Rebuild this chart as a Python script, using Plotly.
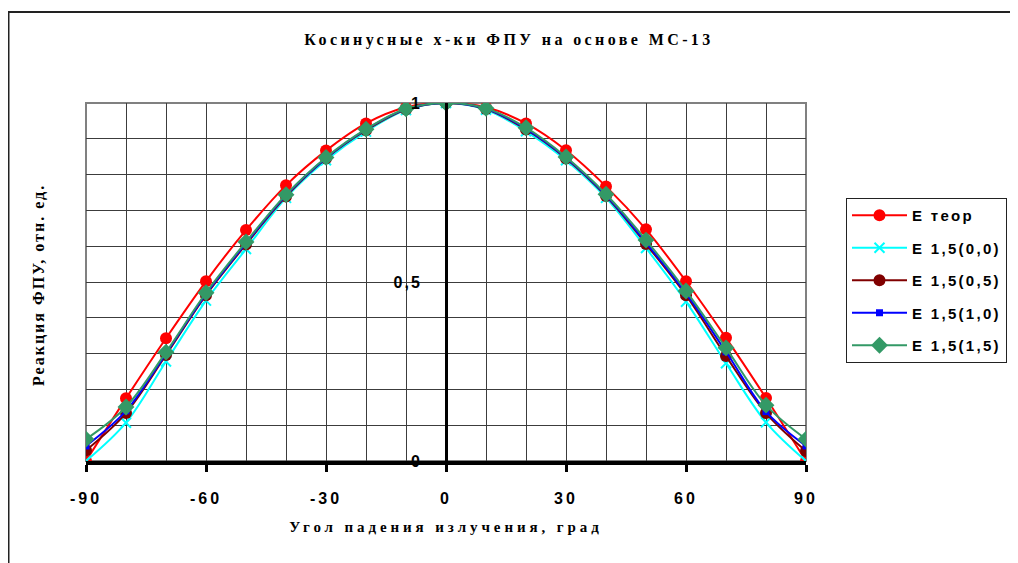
import plotly.graph_objects as go

# ---- data ----
angles = [-90, -80, -70, -60, -50, -40, -30, -20, -10, 0, 10, 20, 30, 40, 50, 60, 70, 80, 90]
e_teor = [0.0, 0.175, 0.343, 0.502, 0.645, 0.770, 0.867, 0.943, 0.988, 1.0, 0.988, 0.943, 0.868, 0.767, 0.647, 0.502, 0.344, 0.176, 0.0]
e_00 = [0.0, 0.107, 0.278, 0.448, 0.592, 0.735, 0.840, 0.920, 0.980, 1.0, 0.981, 0.921, 0.840, 0.735, 0.595, 0.445, 0.273, 0.108, 0.0]
e_05 = [0.030, 0.134, 0.296, 0.463, 0.605, 0.739, 0.845, 0.924, 0.982, 1.0, 0.983, 0.926, 0.845, 0.740, 0.606, 0.463, 0.293, 0.134, 0.028]
e_10 = [0.042, 0.140, 0.300, 0.466, 0.608, 0.742, 0.846, 0.926, 0.983, 1.0, 0.984, 0.928, 0.847, 0.742, 0.610, 0.468, 0.305, 0.138, 0.042]
e_15 = [0.061, 0.151, 0.304, 0.470, 0.612, 0.744, 0.848, 0.927, 0.984, 1.0, 0.985, 0.931, 0.849, 0.745, 0.617, 0.475, 0.316, 0.156, 0.061]

series_names = ["E теор", "E 1,5(0,0)", "E 1,5(0,5)", "E 1,5(1,0)", "E 1,5(1,5)"]
x_ticks = [-90, -60, -30, 0, 30, 60, 90]
y_ticks = [0, 0.5, 1]
y_tick_text = ["0", "0,5", "1"]

title_text = "Косинусные х-ки ФПУ на основе МС-13"
x_title = "Угол падения излучения, град"
y_title = "Реакция ФПУ, отн. ед."

SANS = "Liberation Sans, Arial, sans-serif"
SERIF = "Liberation Serif, Times New Roman, serif"

# page body has an 8px margin; the figure is sized to fit the 1018x563 window
W, H = 1010, 555
L, T, PW, PH = 78, 95, 720, 358


def sp(t, ls):
    return f"<span style='letter-spacing:{ls}px'>{t}</span>"


def px_x(fx):
    return (fx - L) / PW


def px_y(fy):
    return (T + PH - fy) / PH


styles = [
    dict(color="#FF0000", symbol="circle", size=12),
    dict(color="#00FFFF", symbol="x-thin", size=10),
    dict(color="#800000", symbol="circle", size=12),
    dict(color="#0000FF", symbol="square", size=7),
    dict(color="#339966", symbol="diamond", size=13),
]
values = [e_teor, e_00, e_05, e_10, e_15]

fig = go.Figure()
for name, vals, st in zip(series_names, values, styles):
    marker = dict(symbol=st["symbol"], size=st["size"], color=st["color"])
    if st["symbol"] == "x-thin":
        marker["line"] = dict(color=st["color"], width=2)
    fig.add_trace(go.Scatter(
        x=angles, y=vals, name=sp(name, 2.3), legendgroup=name,
        mode="lines+markers",
        line=dict(color=st["color"], width=2, shape="spline", smoothing=1.0),
        marker=marker,
    ))

GRID = "#3c3c3c"
fig.update_layout(
    width=W, height=H,
    margin=dict(l=L, r=W - L - PW, t=T, b=H - T - PH, autoexpand=False),
    paper_bgcolor="white", plot_bgcolor="white",
    separators=", ",
    showlegend=True,
    title=dict(text=sp(title_text, 3.4), x=(509 - 8) / W, xref="container", xanchor="center",
               y=1 - 31 / H, yref="container", yanchor="middle",
               font=dict(family=SERIF, size=16, color="black", weight="bold")),
    legend=dict(x=px_x(838), y=px_y(190), xanchor="left", yanchor="top",
                bordercolor="#222", borderwidth=1, bgcolor="white",
                font=dict(family=SANS, size=15, color="black", weight="bold"),
                itemwidth=55, tracegroupgap=10),
    xaxis=dict(range=[-90, 90], tickmode="array", tickvals=x_ticks,
               ticktext=[sp(str(v), 3) for v in x_ticks],
               showgrid=True, gridcolor=GRID, gridwidth=1,
               minor=dict(dtick=10, showgrid=True, gridcolor=GRID, gridwidth=1),
               zeroline=False, showline=True, linecolor="black", linewidth=4,
               ticks="outside", ticklen=7, tickwidth=3, tickcolor="black",
               ticklabelstandoff=13,
               tickfont=dict(family=SANS, size=16, color="black", weight="bold"),
               title=dict(text=sp(x_title, 3.9), standoff=16,
                          font=dict(family=SERIF, size=15, color="black", weight="bold"))),
    yaxis=dict(range=[0, 1], anchor="free", position=0.5,
               tickmode="array", tickvals=y_ticks, ticktext=[sp(t, 2) for t in y_tick_text],
               showgrid=True, gridcolor=GRID, gridwidth=1,
               minor=dict(dtick=0.1, showgrid=True, gridcolor=GRID, gridwidth=1),
               zeroline=False, showline=True, linecolor="black", linewidth=3,
               ticks="", ticklabelstandoff=20,
               tickfont=dict(family=SANS, size=16, color="black", weight="bold")),
    annotations=[dict(text=sp(y_title, 2), xref="paper", yref="paper",
                      x=px_x(30), y=px_y(277), textangle=-90, showarrow=False,
                      xanchor="center", yanchor="middle",
                      font=dict(family=SERIF, size=16, color="black", weight="bold"))],
    shapes=[
        dict(type="rect", xref="paper", yref="paper",
             x0=px_x(0.5), x1=px_x(W + 20), y0=px_y(H + 20), y1=px_y(4),
             line=dict(color="#222", width=2), layer="below"),
        dict(type="rect", xref="paper", yref="paper", x0=0, x1=1, y0=0, y1=1,
             line=dict(color="#808080", width=2), layer="below"),
    ],
)

fig.write_html("out.html")
